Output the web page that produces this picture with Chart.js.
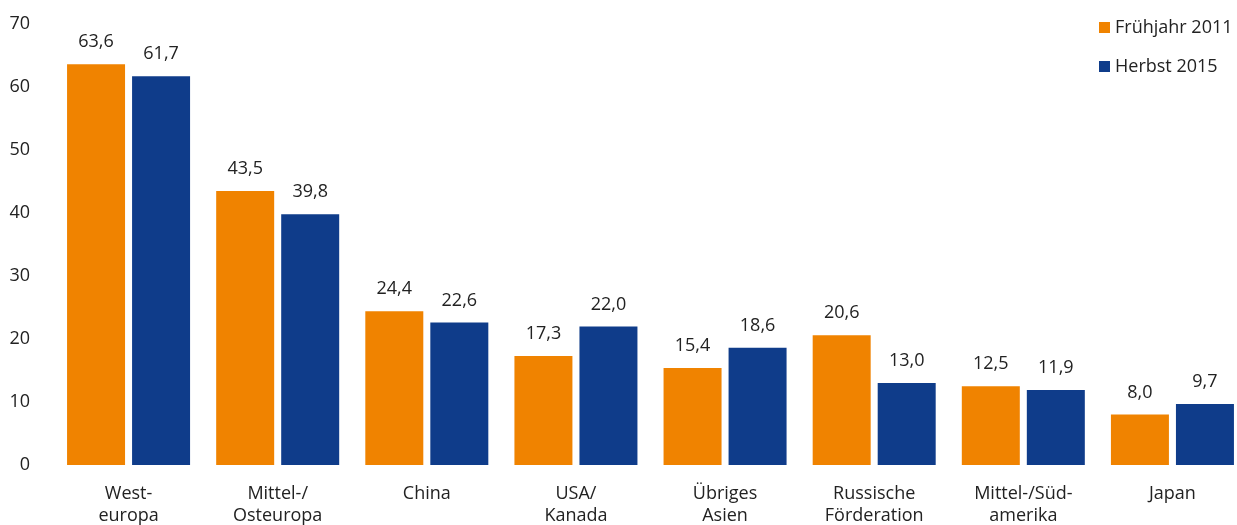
<!DOCTYPE html>
<html>
<head>
<meta charset="utf-8">
<script src="https://cdn.jsdelivr.net/npm/chart.js@4/dist/chart.umd.min.js"></script>
<style>
	html, body { margin: 0; padding: 0; background: #fff; overflow: hidden; }
	#wrap { position: absolute; left: 0; top: 0; width: 1247px; height: 540px; }
	#legend { position: absolute; left: 1099px; top: 14px; font-family: "Open Sans", sans-serif; font-size: 18px; color: #222; }
	#legend div { height: 39px; display: flex; align-items: flex-start; }
	#legend span.box { display: inline-block; width: 11px; height: 11px; margin-right: 5px; margin-top: 8px; }
</style>
</head>
<body>
<div id="wrap">
	<canvas id="chart" width="1247" height="540"></canvas>
</div>
<div id="legend"></div>
<script>
// Chart values
const categories = [
	["West-", "europa"],
	["Mittel-/", "Osteuropa"],
	"China",
	["USA/", "Kanada"],
	["Übriges", "Asien"],
	["Russische", "Förderation"],
	["Mittel-/Süd-", "amerika"],
	"Japan",
];
const fruehjahr2011 = [63.6, 43.5, 24.4, 17.3, 15.4, 20.6, 12.5, 8.0];
const herbst2015 = [61.7, 39.8, 22.6, 22.0, 18.6, 13.0, 11.9, 9.7];
const seriesNames = ["Frühjahr 2011", "Herbst 2015"];
const seriesColors = ["#F08300", "#0F3C8A"];
const yTicks = [0, 10, 20, 30, 40, 50, 60, 70];

const FONT = "'Open Sans', sans-serif";

// value labels above the bars, with a decimal comma
const valueLabels = {
	id: "valueLabels",
	afterDatasetsDraw(chart) {
		const ctx = chart.ctx;
		ctx.save();
		ctx.font = "18px " + FONT;
		ctx.fillStyle = "#222";
		ctx.textAlign = "center";
		ctx.textBaseline = "bottom";
		chart.data.datasets.forEach((ds, i) => {
			chart.getDatasetMeta(i).data.forEach((bar, j) => {
				ctx.fillText(ds.data[j].toFixed(1).replace(".", ","), bar.x, bar.y - 13);
			});
		});
		ctx.restore();
	},
};

const chart = new Chart(document.getElementById("chart").getContext("2d"), {
	type: "bar",
	data: {
		labels: categories,
		datasets: [
			{ label: seriesNames[0], data: fruehjahr2011, backgroundColor: seriesColors[0] },
			{ label: seriesNames[1], data: herbst2015, backgroundColor: seriesColors[1] },
		],
	},
	options: {
		responsive: false,
		animation: false,
		categoryPercentage: 0.872,
		barPercentage: 0.892,
		layout: { padding: { top: 24, left: 0, right: 0, bottom: 0 } },
		plugins: {
			legend: { display: false },
			tooltip: { enabled: false },
		},
		scales: {
			x: {
				grid: { display: false },
				border: { display: false },
				ticks: {
					color: "#222",
					font: { family: FONT, size: 18 },
					padding: 10,
					maxRotation: 0,
					autoSkip: false,
				},
				afterFit: (s) => { s.height = 75; s.paddingLeft = 0; s.paddingRight = 0; },
			},
			y: {
				min: 0,
				max: 70,
				grid: { display: false, drawTicks: false },
				border: { display: false },
				afterBuildTicks: (s) => { s.ticks = yTicks.map((v) => ({ value: v })); },
				ticks: {
					color: "#222",
					font: { family: FONT, size: 18 },
					padding: 24,
				},
				afterFit: (s) => { s.width = 54; s.paddingTop = 0; s.paddingBottom = 0; },
			},
		},
	},
	plugins: [valueLabels],
});

// legend
const legend = document.getElementById("legend");
seriesNames.forEach((name, i) => {
	const row = document.createElement("div");
	const box = document.createElement("span");
	box.className = "box";
	box.style.background = seriesColors[i];
	row.appendChild(box);
	row.appendChild(document.createTextNode(name));
	legend.appendChild(row);
});
</script>
</body>
</html>
